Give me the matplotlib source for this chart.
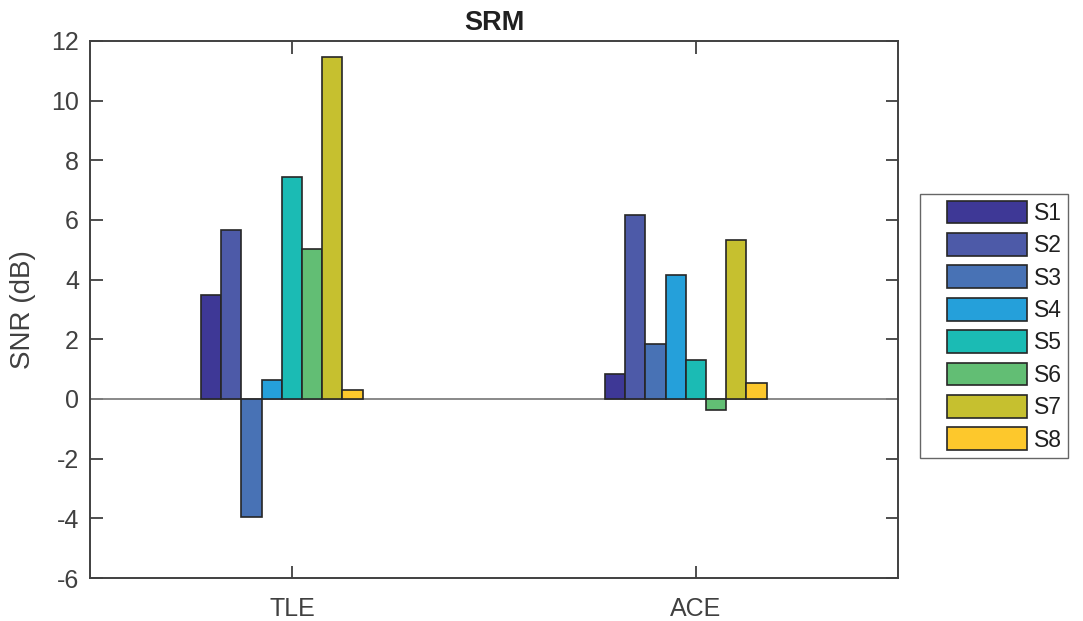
import matplotlib.pyplot as plt
import matplotlib.patches as mpatches
from matplotlib.legend_handler import HandlerPatch
import numpy as np

plt.rcParams['font.family'] = ['Liberation Sans', 'DejaVu Sans']
plt.rcParams['axes.unicode_minus'] = False

categories = ['TLE', 'ACE']
series = ['S1', 'S2', 'S3', 'S4', 'S5', 'S6', 'S7', 'S8']
tle = [3.5, 5.67, -3.96, 0.63, 7.45, 5.03, 11.45, 0.3]
ace = [0.84, 6.18, 1.85, 4.17, 1.31, -0.37, 5.34, 0.54]
colors = ['#3e3896', '#4d5aa8', '#4872b5', '#25a0da', '#1bbbb4', '#62be74', '#c6c02f', '#fdc82c']

fig = plt.figure(figsize=(10.83, 6.21), dpi=100)
ax = fig.add_axes([0.0831, 0.0692, 0.746, 0.865])

x = np.arange(1, len(categories) + 1)
w = 0.05
handles = []
for i, s in enumerate(series):
    vals = [tle[i], ace[i]]
    b = ax.bar(x + (i - 4) * w, vals, w, color=colors[i], edgecolor='#262626',
               linewidth=1.2, label=s, zorder=3)
    handles.append(b.patches[0])

ax.axhline(0, color='#808080', linewidth=1.3, zorder=2)
ax.set_xlim(0.5, 2.5)
ax.set_ylim(-6, 12)
ax.set_xticks(x)
ax.set_xticklabels(categories)
ax.set_yticks(np.arange(-6, 13, 2))
ax.set_ylabel('SNR (dB)', fontsize=20, color='#404040', labelpad=11)
ax.set_title('SRM', fontsize=19.5, fontweight='bold', color='#202020', pad=8)
ax.tick_params(direction='in', length=9, width=1.3, labelsize=18, colors='#404040',
               top=True, right=True, pad=8)
ax.tick_params(axis='x', pad=14)
for sp in ax.spines.values():
    sp.set_color('#404040')
    sp.set_linewidth(1.4)


# legend patch with a gap on its left, like the MATLAB legend
def box_patch(legend, orig_handle, xdescent, ydescent, width, height, fontsize):
    gap = width * 0.2
    return mpatches.Rectangle((-xdescent + gap, -ydescent), width - gap, height)


leg = ax.legend(handles, series, loc='center left', bbox_to_anchor=(1.027, 0.469),
                fontsize=16.5, handlelength=4.37, handleheight=1.15, labelspacing=0.36,
                handletextpad=0.3, borderpad=0.3, borderaxespad=0,
                fancybox=False, frameon=True,
                handler_map={mpatches.Rectangle: HandlerPatch(patch_func=box_patch)})
leg.get_frame().set_edgecolor('#404040')
leg.get_frame().set_linewidth(1)
for t in leg.get_texts():
    t.set_color('#202020')

fig.savefig('out.png', dpi=100)
